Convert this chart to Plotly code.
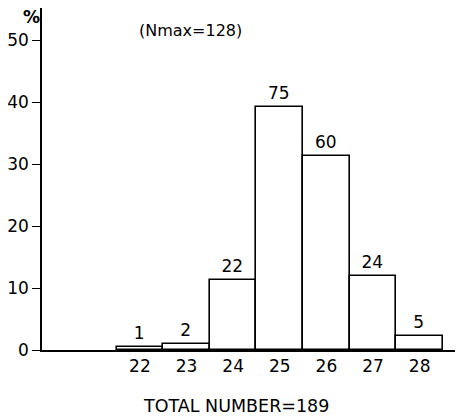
import plotly.graph_objects as go

categories = [22, 23, 24, 25, 26, 27, 28]
percent = [0.5, 1.0, 11.3, 39.3, 31.3, 12.0, 2.3]
counts = ["1", "2", "22", "75", "60", "24", "5"]
y_ticks = [0, 10, 20, 30, 40, 50]
x_title = "TOTAL NUMBER=189"
note = "(Nmax=128)"

FONT = "DejaVu Sans"

fig = go.Figure()
fig.add_trace(go.Bar(
    x=categories, y=percent, width=1,
    marker=dict(color="white", line=dict(color="black", width=1.6)),
    text=counts, textposition="outside", cliponaxis=False,
    textfont=dict(family=FONT, size=17, color="black"),
    showlegend=False,
))

# page body adds an 8px offset; compensate in the figure size/margins
fig.update_layout(
    width=455, height=410,
    margin=dict(l=34, r=0, t=0, b=68),
    paper_bgcolor="white", plot_bgcolor="white",
    font=dict(family=FONT, size=16, color="black"),
    bargap=0,
    xaxis=dict(range=[19.9, 28.93], tickvals=categories,
               ticktext=[str(c) for c in categories],
               showline=True, linecolor="black", linewidth=1.6,
               ticks="", showgrid=False, zeroline=False,
               tickfont=dict(size=17)),
    yaxis=dict(range=[0, 55.2], tickvals=y_ticks,
               showline=True, linecolor="black", linewidth=1.6,
               ticks="outside", ticklen=8, tickwidth=1.4, tickcolor="black",
               showgrid=False, zeroline=False,
               tickfont=dict(size=17)),
    annotations=[
        dict(text=x_title, xref="paper", yref="paper", x=0.46, y=-0.165,
             showarrow=False, font=dict(size=17.5), xanchor="center", yanchor="middle"),
        dict(text=note, xref="paper", yref="paper", x=0.225, y=0.935,
             showarrow=False, font=dict(size=16), xanchor="left", yanchor="middle"),
        dict(text="<b>%</b>", xref="paper", yref="paper", x=0, y=0.975,
             showarrow=False, font=dict(size=17), xanchor="right", yanchor="middle"),
    ],
)

fig.write_html("out.html")
